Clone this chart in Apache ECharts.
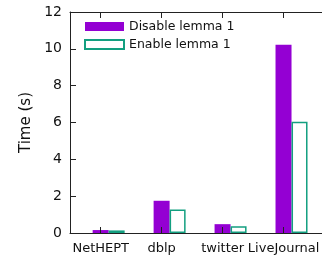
<!DOCTYPE html>
<html>
<head>
<meta charset="utf-8">
<script src="https://cdn.jsdelivr.net/npm/echarts@6/dist/echarts.min.js"></script>
<style>
html,body{margin:0;padding:0;background:#fff;}
#chart{width:322px;height:260px;}
</style>
</head>
<body>
<div id="chart"></div>
<script>
const categories = ['NetHEPT', 'dblp', 'twitter', 'LiveJournal'];
const seriesNames = ['Disable lemma 1', 'Enable lemma 1'];
const disableValues = [0.16, 1.75, 0.48, 10.22];
const enableValues = [0.14, 1.28, 0.36, 6.04];
const yTicks = [0, 2, 4, 6, 8, 10, 12];
const yMax = 12;

const FONT = 'DejaVu Sans';
const TICK_SHIFT = 0.13; // tick sits on the first bar of each cluster
const tickValues = categories.map((c, i) => i - TICK_SHIFT);
const xMin = -0.634, xMax = 3.5;

const chart = echarts.init(document.getElementById('chart'), null, {renderer: 'canvas'});
function xAxisDef(pos, withLabels) {
  return {
    type: 'value', gridIndex: 0, show: true, position: pos, min: xMin, max: xMax,
    axisLine: {show: true, onZero: false, lineStyle: {color: '#222', width: 1}},
    axisTick: {show: true, inside: true, length: 6, customValues: tickValues, lineStyle: {color: '#222', width: 1}},
    axisLabel: {
      show: true, customValues: tickValues, margin: 9,
      fontFamily: FONT, fontSize: 13, color: '#111',
      formatter: v => withLabels ? (categories[Math.round(v + TICK_SHIFT)] || '') : ''
    },
    splitLine: {show: false},
    z: 3
  };
}
chart.setOption({
  animation: false,
  textStyle: {fontFamily: FONT},
  grid: {left: 70, right: 0, top: 12, bottom: 27, containLabel: false, outerBoundsMode: 'none'},
  legend: {
    orient: 'vertical', left: 84, top: 20, padding: 0,
    itemWidth: 39, itemHeight: 9, itemGap: 5, itemTextGap: 7,
    icon: 'rect',
    textStyle: {fontFamily: FONT, fontSize: 12.5, color: '#111'},
    data: seriesNames
  },
  xAxis: [xAxisDef('bottom', true), xAxisDef('top', false)],
  yAxis: {
    type: 'value', min: 0, max: yMax, interval: 2,
    name: 'Time (s)', nameLocation: 'middle', nameRotate: 90, nameGap: 33,
    nameTextStyle: {fontFamily: FONT, fontSize: 15, color: '#111'},
    axisLine: {show: true, onZero: false, lineStyle: {color: '#222', width: 1}},
    axisTick: {show: true, inside: true, length: 6, lineStyle: {color: '#222'}},
    axisLabel: {margin: 8, fontFamily: FONT, fontSize: 14, color: '#111',
      formatter: v => yTicks.includes(v) ? String(v) : ''},
    splitLine: {show: false},
    z: 3
  },
  series: [
    {
      name: seriesNames[0], type: 'bar', barWidth: 16, barGap: '0%', xAxisIndex: 0,
      data: disableValues.map((v, i) => [i, v]),
      itemStyle: {color: '#9400d3'},
      markLine: {
        silent: true, symbol: ['none', 'none'], animation: false,
        label: {show: false},
        lineStyle: {color: '#222', width: 1, type: 'solid'},
        data: [{yAxis: yMax}]
      }
    },
    {
      name: seriesNames[1], type: 'bar', barWidth: 16, barGap: '0%', xAxisIndex: 0,
      data: enableValues.map((v, i) => [i, v]),
      itemStyle: {color: '#ffffff', borderColor: '#139f80', borderWidth: 1.5}
    }
  ]
});
</script>
</body>
</html>
